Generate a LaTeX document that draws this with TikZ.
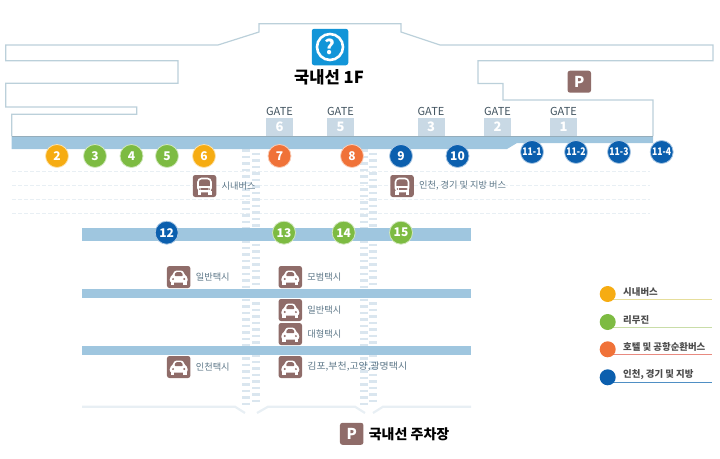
\documentclass[tikz,border=0pt]{standalone}
\usepackage{fontspec}
\setmainfont{Noto Sans CJK KR}
\usepackage{xcolor}
\usetikzlibrary{positioning}
\definecolor{bandblue}{HTML}{9FC6DF}
\definecolor{wallgrey}{HTML}{BBD0DA}
\definecolor{gatebox}{HTML}{C9D9E5}
\definecolor{stripe}{HTML}{DAE6EF}
\definecolor{paleline}{HTML}{E8EFF4}
\definecolor{iconbrown}{HTML}{8F6C69}
\definecolor{labelgrey}{HTML}{5C7687}
\definecolor{infoblue}{HTML}{1295D8}
\definecolor{stopyellow}{HTML}{F6AC12}
\definecolor{stopgreen}{HTML}{7DBB42}
\definecolor{stoporange}{HTML}{F07238}
\definecolor{stopblue}{HTML}{0B5FAE}
\tikzset{
    wall/.style={draw=wallgrey, line width=1.2pt},
    band/.style={fill=bandblue, draw=none},
    floorline/.style={draw=paleline, line width=2.2pt},
    walkway/.style={draw=stripe, line width=8pt, dash pattern=on 2.6pt off 3.9pt},
    rowline/.style={draw=paleline, line width=0.8pt, dash pattern=on 4pt off 2pt},
    stop/.style={circle, minimum size=23pt, inner sep=0pt, text=white, font=\fontsize{12}{12}\selectfont\bfseries},
    stopsmall/.style={stop, font=\fontsize{10.5}{10.5}\selectfont\bfseries},
    legenddot/.style={circle, minimum size=16pt, inner sep=0pt},
    brownbox/.style={fill=iconbrown, rounded corners=2.5pt, minimum width=23.5pt, minimum height=22pt, inner sep=0pt},
    gatenum/.style={fill=gatebox, minimum width=27pt, minimum height=18pt, inner sep=0pt, text=white, font=\fontsize{13}{13}\selectfont\bfseries},
    gatetext/.style={inner sep=0pt, text=labelgrey!70!black, font=\fontsize{11}{11}\selectfont},
    placetext/.style={inner sep=0pt, anchor=west, text=labelgrey, font=\fontsize{9.2}{9.2}\selectfont},
    legendtext/.style={inner sep=0pt, anchor=west, text=black!70, font=\fontsize{9.4}{9.4}\selectfont\bfseries}
}
% brown square with a small white bus on it
\newcommand{\busicon}[3]{
    \node[brownbox] (#1) at (#2,#3) {};
    \draw[white, line width=1.6pt, rounded corners=3.5pt] (#2-6.5,#3+5.5) -- (#2-6.5,#3-7.5) -- (#2+6.5,#3-7.5) -- (#2+6.5,#3+5.5) -- cycle;
    \fill[white] (#2-6.5,#3) rectangle (#2+6.5,#3+6);
    \fill[white] (#2-7,#3+5) rectangle (#2-3.5,#3+8.5);
    \fill[white] (#2+3.5,#3+5) rectangle (#2+7,#3+8.5);
    \fill[iconbrown] (#2-3.5,#3+2.2) rectangle (#2+3.5,#3+3.6);
    \fill[iconbrown] (#2-4.6,#3+3) circle (0.9);
    \fill[iconbrown] (#2+4.6,#3+3) circle (0.9);
}
% brown square with a small white car on it
\newcommand{\caricon}[3]{
    \node[brownbox] (#1) at (#2,#3) {};
    \fill[white, rounded corners=2.5pt] (#2-9,#3+5.5) -- (#2-9,#3) -- (#2-6,#3-1.5) -- (#2-4.5,#3-6.5) -- (#2+4.5,#3-6.5) -- (#2+6,#3-1.5) -- (#2+9,#3) -- (#2+9,#3+5.5) -- cycle;
    \fill[iconbrown, rounded corners=1pt] (#2-4.4,#3-1) -- (#2-3,#3-4.8) -- (#2+3,#3-4.8) -- (#2+4.4,#3-1) -- cycle;
    \fill[white] (#2-8,#3+5) rectangle (#2-4.5,#3+7.5);
    \fill[white] (#2+4.5,#3+5) rectangle (#2+8,#3+7.5);
    \fill[iconbrown] (#2-5.6,#3+2) circle (1.1);
    \fill[iconbrown] (#2+5.6,#3+2) circle (1.1);
}
\begin{document}
\begin{tikzpicture}[x=1pt, y=-1pt]
    \useasboundingbox (0,0) rectangle (720,458);

    % Building outline
    \draw[wall] (11.7,136) -- (11.7,114.3) -- (136.7,114.3) -- (136.7,107) -- (5.7,107) -- (5.7,83.3) -- (178,83.3) -- (178,60.7) -- (5.7,60.7) -- (5.7,45) -- (218,45) -- (259,32) -- (259,23.7) -- (401,23.7) -- (401,32) -- (440,45) -- (713,45) -- (713,60.7) -- (478,60.7) -- (478,83.5) -- (503,83.5) -- (503,100) -- (653,100) -- (653,136);

    % Dashed rows in front of the terminal
    \foreach \rowy in {171,185,199,213}
        \draw[rowline] (12,\rowy) -- (650,\rowy);

    % Walkways
    \draw[walkway] (246,149) -- (246,405);
    \draw[walkway, dash phase=3pt] (256,149) -- (256,405);
    \draw[walkway] (364,149) -- (364,405);
    \draw[walkway, dash phase=3pt] (373,149) -- (373,405);

    % Roads
    \fill[band] (11.7,136) -- (653,136) -- (653,143) -- (517,143) -- (507,149) -- (11.7,149) -- cycle;
    \draw[wallgrey!60!bandblue!85!black, line width=1pt] (11.7,136.3) -- (653,136.3);
    \fill[band] (81.7,228.3) rectangle (471,241);
    \fill[band] (81.7,289.3) rectangle (471,297.7);
    \fill[band] (81.7,346.3) rectangle (471,354.7);

    % Bottom edge
    \draw[floorline] (82,406.7) -- (235,406.7) -- (245,413);
    \draw[floorline] (257,413) -- (268,406.7) -- (355,406.7) -- (365,413);
    \draw[floorline] (373,413) -- (383,406.7) -- (471,406.7);

    % Information sign and title
    \node[fill=infoblue, rounded corners=2.5pt, minimum size=36.5pt, inner sep=0pt] (info) at (330,47) {};
    \node[circle, draw=white, line width=2.6pt, minimum size=26pt, inner sep=0pt, text=white, font=\fontsize{20}{20}\selectfont\bfseries] (infomark) at (330,47) {?};
    \node[inner sep=0pt, font=\fontsize{16.6}{16.6}\selectfont\bfseries] (title) at (329,77) {국내선 1F};

    % Gates
    \foreach \gatename/\gatex/\gatenumber in {gsix/279.5/6, gfive/340.5/5, gthree/431/3, gtwo/497.5/2, gone/563.5/1}{
        \node[gatenum] (\gatename) at (\gatex,126.5) {\gatenumber};
        \node[gatetext] (\gatename text) at (\gatex,111.5) {GATE};
    }

    % Parking on the upper level
    \node[brownbox, font=\fontsize{15}{15}\selectfont\bfseries, text=white] (parktop) at (579.3,81.7) {P};

    % Stops along the terminal
    \foreach \stopname/\stopx/\stopcol in {2/57/stopyellow, 3/95/stopgreen, 4/131.5/stopgreen, 5/167/stopgreen, 6/204/stopyellow, 7/279.5/stoporange, 8/352/stoporange, 9/401/stopblue, 10/457.5/stopblue}
        \node[stop, fill=\stopcol, draw=\stopcol!35, line width=0.8pt] (s\stopname) at (\stopx,156) {\stopname};
    \foreach \stopname/\stopx in {11-1/532, 11-2/576, 11-3/619, 11-4/661.7}
        \node[stopsmall, fill=stopblue, draw=stopblue!35, line width=0.8pt] (s\stopname) at (\stopx,152) {\scalebox{0.82}[1]{\stopname}};

    % Stops on the second road
    \foreach \stopname/\stopx/\stopcol in {12/166.7/stopblue, 13/284/stopgreen, 14/343.7/stopgreen, 15/401/stopgreen}
        \node[stop, fill=\stopcol, draw=\stopcol!35, line width=0.8pt] (s\stopname) at (\stopx,232.7) {\stopname};

    % Bus and taxi places
    \busicon{busa}{204.5}{186}
    \node[placetext, right=5pt of busa] (busatext) {시내버스};
    \busicon{busb}{402}{186}
    \node[placetext, right=5pt of busb] (busbtext) {인천, 경기 및 지방 버스};

    \caricon{taxia}{178.7}{277}
    \node[placetext, right=5pt of taxia] (taxiatext) {일반택시};
    \caricon{taxib}{290.3}{277}
    \node[placetext, right=5pt of taxib] (taxibtext) {모범택시};
    \caricon{taxic}{290.3}{310}
    \node[placetext, right=5pt of taxic] (taxictext) {일반택시};
    \caricon{taxid}{290.3}{334}
    \node[placetext, right=5pt of taxid] (taxidtext) {대형택시};
    \caricon{taxie}{178.7}{367}
    \node[placetext, right=5pt of taxie] (taxietext) {인천택시};
    \caricon{taxif}{290.3}{367}
    \node[placetext, right=5pt of taxif] (taxiftext) {\scalebox{1.08}[1]{김포,부천,고양,광명택시}};

    % Domestic parking
    \node[brownbox, font=\fontsize{15}{15}\selectfont\bfseries, text=white] (parkbottom) at (351.7,433.8) {P};
    \node[inner sep=0pt, font=\fontsize{14}{14}\selectfont\bfseries, right=5pt of parkbottom] (parktext) {국내선 주차장};

    % Legend
    \foreach \legname/\legy/\legcol/\legline/\legtext in {lega/294/stopyellow/E6DE9C/시내버스, legb/322/stopgreen/C9DDA8/리무진, legc/349.3/stoporange/E88A80/호텔 및 공항순환버스, legd/377.3/stopblue/4F8FC4/{인천, 경기 및 지방}}{
        \definecolor{legrule}{HTML}{\legline}
        \coordinate (\legname start) at (612,\legy+5.5);
        \coordinate (\legname end) at (712,\legy+5.5);
        \draw[legrule, line width=0.9pt] (\legname start) -- (\legname end);
        \node[legenddot, fill=\legcol] (\legname) at (607.7,\legy) {};
        \node[legendtext] (\legname text) at (623,\legy-2.5) {\legtext};
    }
\end{tikzpicture}
\end{document}
